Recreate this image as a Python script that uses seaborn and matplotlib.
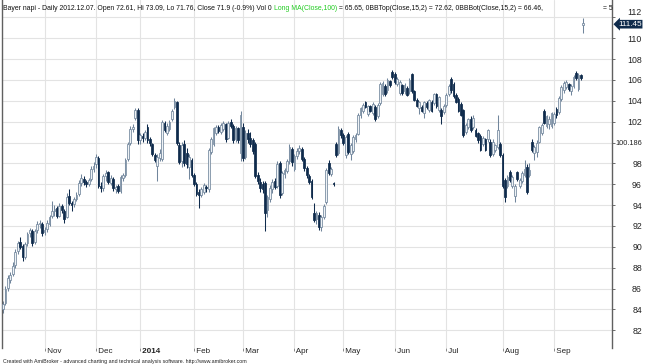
import numpy as np
import pandas as pd
import matplotlib
matplotlib.use("Agg")
import matplotlib.pyplot as plt
import matplotlib.transforms as mtransforms
import seaborn as sns

# ==========================================
# DATA (daily OHLC)
# ==========================================

opens = [
    84.0, 84.6, 86.1, 86.8, 87.4, 88.3, 89.6, 90.5, 90.1, 89.0, 90.4, 91.3, 91.5, 90.5, 91.6, 92.2, 92.2,
    91.4, 91.7, 92.2, 93.0, 93.4, 93.7, 93.0, 93.9, 93.4, 92.9, 94.9, 94.2, 94.1, 94.6, 95.1, 96.1, 96.5, 96.2, 96.0, 96.5, 97.5,
    97.9, 98.5, 95.8, 95.6, 96.8, 97.2, 96.1, 96.5, 95.5, 95.8, 95.4, 96.6, 96.9, 98.4, 100.0, 101.3, 102.4, 103.1,
    100.2, 100.6, 100.4, 101.5, 100.3, 99.9, 98.8, 97.8, 98.5, 98.4, 101.9, 100.9, 101.3, 102.3, 103.4, 103.9, 99.8, 98.2, 99.9, 99.0, 97.7, 98.3,
    96.9, 96.0, 95.3, 95.0, 95.3, 95.7, 95.5, 99.1, 99.9, 100.9, 101.5, 101.0, 101.3, 101.8, 100.4, 102.0, 101.6, 100.3, 101.4, 99.0,
    101.5, 98.6, 100.9, 100.4, 100.2, 99.9, 96.9, 96.2, 96.0, 96.1, 93.5, 94.6, 95.5, 96.3, 95.8, 98.0, 95.2, 97.0, 97.3, 98.2, 99.4,
    97.5, 98.7, 99.2, 99.4, 98.4, 97.6, 96.8, 96.3, 93.2, 92.7, 93.1, 91.9, 92.9, 94.3, 98.0, 97.0, 96.1, 99.9, 99.0, 101.2,
    100.7, 98.8, 100.8, 98.9, 99.2, 100.3, 100.8, 102.6, 103.0, 103.9, 102.7, 103.5, 102.8, 103.4, 102.5, 103.8, 104.7, 105.4, 105.0, 105.9, 106.8,
    106.6, 105.6, 104.8, 105.5, 104.9, 105.2, 104.9, 106.6, 104.9, 104.1, 103.3, 103.4, 102.8, 103.8, 103.1, 103.9, 103.8, 104.7, 103.1, 103.1, 102.9,
    103.6, 104.7, 106.1, 105.6, 104.6, 104.2, 103.7, 103.1, 101.0, 101.5, 102.3, 101.5, 101.2, 100.9, 100.6, 99.9, 100.3, 100.3, 100.1, 98.9, 99.3, 99.6, 99.9,
    98.8, 96.4, 95.8, 97.2, 95.8, 94.9, 97.2, 95.8, 96.3, 96.9, 97.7, 96.9, 100.1, 99.0, 99.1, 100.1, 100.9, 103.0, 101.6, 101.8, 101.6,
    101.9, 103.2, 102.9, 104.2, 105.0, 105.3, 105.6, 104.9, 105.4, 106.7, 105.1, 106.5, 111.3,
]
highs = [
    84.8, 86.2, 87.3, 87.6, 88.5, 89.8, 90.6, 90.9, 90.3, 90.5, 91.4, 91.8, 91.7, 91.7, 92.5, 92.6, 92.4,
    91.9, 92.6, 93.1, 94.4, 94.0, 93.9, 94.2, 94.1, 93.6, 95.2, 95.5, 94.4, 94.8, 95.3, 96.4, 97.0, 96.8, 96.4, 96.6, 97.8, 98.1,
    98.9, 98.7, 96.2, 97.0, 97.4, 97.3, 96.9, 96.7, 95.9, 96.0, 96.9, 97.1, 98.5, 100.1, 101.6, 101.8, 103.3, 103.3,
    100.9, 100.9, 101.2, 101.8, 100.5, 100.0, 99.0, 98.9, 99.4, 102.2, 102.1, 101.9, 102.2, 103.2, 104.3, 104.0, 100.1, 100.1, 100.2, 99.5, 98.9, 98.5,
    97.1, 96.2, 95.5, 95.7, 96.1, 95.9, 99.5, 100.5, 101.5, 101.7, 101.7, 101.9, 102.1, 101.9, 102.1, 102.3, 101.8, 101.6, 101.5, 103.0,
    101.9, 101.2, 101.3, 101.0, 100.4, 100.1, 97.2, 96.6, 96.3, 96.3, 95.0, 95.9, 96.5, 96.6, 98.2, 98.2, 97.3, 97.6, 98.4, 99.9, 99.6,
    98.9, 99.5, 99.8, 99.6, 98.6, 97.8, 97.0, 96.5, 94.2, 93.4, 93.3, 93.1, 94.1, 97.6, 98.3, 97.7, 96.2, 100.1, 101.6, 101.4,
    100.9, 100.7, 101.0, 100.0, 100.7, 100.9, 102.8, 103.4, 103.8, 104.0, 103.6, 103.6, 103.9, 103.6, 103.8, 105.8, 105.9, 105.6, 106.2, 106.0, 107.0,
    106.8, 106.3, 106.0, 105.6, 105.7, 105.4, 106.2, 106.7, 105.0, 104.3, 104.0, 103.6, 104.0, 104.0, 104.2, 104.1, 104.8, 104.8, 104.5, 103.3, 103.7,
    104.8, 105.6, 106.3, 105.8, 104.8, 104.4, 103.9, 103.2, 101.9, 102.4, 102.5, 102.6, 101.4, 101.0, 100.8, 100.6, 100.4, 101.3, 100.3, 100.3, 99.9, 102.6, 100.1,
    99.0, 96.6, 96.9, 97.4, 96.9, 96.0, 97.3, 96.6, 97.3, 98.3, 97.9, 98.0, 100.3, 99.8, 100.2, 101.6, 101.9, 103.2, 102.6, 102.5, 102.9,
    102.9, 103.4, 104.5, 105.5, 105.9, 106.0, 105.7, 105.6, 106.5, 106.9, 106.7, 106.6, 111.9,
]
lows = [
    83.7, 84.4, 85.8, 86.5, 87.2, 88.0, 89.3, 89.8, 88.6, 88.8, 90.1, 90.9, 90.1, 90.3, 91.3, 91.8, 91.0,
    91.1, 91.4, 92.0, 92.8, 93.0, 92.8, 92.9, 93.2, 92.3, 92.8, 94.0, 93.4, 93.8, 94.4, 94.9, 95.8, 95.9, 95.7, 95.8, 96.3, 97.2,
    97.6, 95.6, 95.3, 95.4, 96.3, 96.0, 95.9, 95.4, 95.2, 95.2, 95.2, 96.3, 96.7, 98.2, 99.8, 101.0, 102.2, 99.9,
    99.9, 100.1, 100.2, 100.0, 99.7, 98.7, 98.1, 96.3, 98.2, 98.2, 101.0, 100.7, 101.1, 102.1, 103.2, 99.8, 97.9, 97.7, 97.8, 97.6, 96.5, 96.7,
    95.8, 94.9, 93.7, 94.8, 95.1, 95.3, 95.3, 98.9, 99.7, 100.7, 100.9, 100.8, 101.1, 100.1, 100.3, 101.4, 100.0, 100.1, 100.0, 98.2,
    98.2, 98.4, 100.0, 99.6, 98.9, 96.6, 96.0, 95.3, 95.2, 91.5, 92.9, 94.3, 95.2, 95.5, 95.6, 94.7, 95.0, 96.6, 97.1, 97.9, 97.8,
    97.3, 98.4, 98.9, 98.2, 97.3, 96.6, 96.0, 94.6, 92.4, 92.2, 91.6, 91.5, 92.7, 94.1, 96.9, 96.8, 95.8, 98.6, 98.8, 100.4,
    99.8, 98.5, 98.9, 98.3, 99.0, 100.1, 100.7, 102.4, 102.8, 103.3, 102.5, 102.9, 102.6, 102.1, 102.4, 103.6, 104.5, 104.5, 104.8, 105.3, 106.1,
    105.6, 105.4, 104.6, 104.6, 104.7, 104.5, 104.7, 104.8, 104.0, 103.4, 102.7, 102.9, 102.4, 103.2, 102.9, 102.9, 103.6, 103.3, 102.9, 101.8, 102.7,
    103.4, 104.5, 104.8, 104.3, 103.8, 102.9, 102.5, 100.5, 100.8, 101.3, 101.0, 101.3, 100.5, 100.0, 99.2, 99.7, 99.2, 100.1, 98.6, 98.7, 99.1, 99.4, 98.6,
    95.6, 94.3, 95.6, 96.2, 95.6, 94.3, 96.3, 95.6, 96.1, 96.7, 95.1, 96.7, 99.1, 98.3, 98.6, 100.0, 100.7, 101.8, 101.4, 101.3, 101.4,
    101.7, 102.4, 102.7, 104.0, 104.8, 105.1, 104.9, 104.6, 105.2, 106.0, 104.9, 106.0, 110.5,
]
closes = [
    84.5, 86.0, 87.0, 87.3, 88.2, 89.5, 90.4, 90.0, 89.0, 90.3, 91.2, 91.6, 90.4, 91.5, 92.2, 92.3, 91.3,
    91.6, 92.3, 92.9, 93.4, 93.6, 93.0, 93.9, 93.5, 92.7, 94.8, 94.2, 94.0, 94.6, 95.0, 96.1, 96.6, 96.2, 96.0, 96.4, 97.5, 97.8,
    98.6, 95.8, 95.6, 96.8, 97.1, 96.2, 96.6, 95.6, 95.7, 95.4, 96.7, 96.9, 98.3, 99.9, 101.3, 101.5, 103.1, 100.2,
    100.7, 100.4, 101.0, 100.2, 100.0, 98.9, 98.3, 98.6, 99.0, 102.0, 101.2, 101.6, 102.0, 103.0, 104.0, 100.0, 98.1, 99.8, 98.0, 97.9, 98.6, 96.9,
    96.0, 95.1, 95.0, 95.5, 95.9, 95.6, 99.3, 100.3, 101.4, 101.5, 101.1, 101.7, 101.9, 100.3, 101.9, 101.6, 100.2, 101.4, 100.2, 102.6,
    98.5, 100.9, 100.3, 99.9, 99.2, 96.8, 96.3, 95.6, 95.5, 93.2, 94.8, 95.6, 96.2, 95.7, 97.9, 95.0, 97.1, 97.4, 98.2, 99.6, 98.1,
    98.7, 99.2, 99.5, 98.4, 97.6, 96.9, 96.2, 94.8, 92.6, 93.2, 91.9, 92.9, 93.9, 97.4, 97.1, 97.5, 96.0, 98.8, 101.3, 100.7,
    100.0, 100.5, 99.1, 99.8, 100.5, 100.7, 102.6, 103.3, 103.6, 103.4, 103.5, 103.0, 103.7, 102.3, 103.6, 105.6, 105.7, 104.7, 106.0, 105.5, 106.3,
    105.8, 106.1, 105.8, 104.8, 105.5, 104.6, 106.0, 104.9, 104.1, 103.5, 103.9, 103.0, 103.9, 103.4, 104.1, 103.0, 104.7, 103.5, 104.4, 102.5, 103.5,
    104.6, 105.4, 105.0, 104.5, 103.9, 103.0, 102.6, 100.7, 101.7, 102.3, 101.2, 102.4, 100.6, 100.2, 99.3, 100.4, 99.3, 101.2, 98.8, 100.1, 99.8, 101.2, 98.8,
    95.8, 94.8, 96.7, 96.4, 96.7, 95.8, 96.5, 96.4, 97.1, 97.5, 95.3, 97.4, 99.3, 99.6, 100.0, 101.5, 101.7, 101.9, 102.5, 102.3, 102.8,
    102.7, 102.6, 104.3, 105.3, 105.7, 105.8, 105.1, 105.4, 106.3, 106.2, 106.5, 106.2, 111.45,
]

# Xetra closing days in the period
holidays = ["2013-12-24", "2013-12-25", "2013-12-26", "2013-12-31",
            "2014-01-01", "2014-04-18", "2014-04-21", "2014-05-01"]

y_ticks = [82, 84, 86, 88, 90, 92, 94, 96, 98, 100, 102, 104, 106, 108, 110, 112]
y_labels = ["82", "84", "86", "88", "90", "92", "94", "96", "98", "100.186",
            "102", "104", "106", "108", "110", "112"]
last_price = 111.45

title_left = ("Bayer napi - Daily 2012.12.07. Open 72.61, Hi 73.09, Lo 71.76, "
              "Close 71.9 (-0.9%) Vol 0 ")
title_green = "Long MA(Close,100)"
title_right = (" = 65.65, 0BBTop(Close,15,2) = 72.62, "
               "0BBBot(Close,15,2) = 66.46,")
footer = ("Created with AmiBroker - advanced charting and technical analysis "
          "software. http://www.amibroker.com")

# ==========================================
# FRAME
# ==========================================

dates = pd.bdate_range("2013-10-09", "2014-09-17", freq="C", holidays=holidays)
df = pd.DataFrame({"date": dates, "open": opens, "high": highs,
                   "low": lows, "close": closes})
df["pos"] = np.arange(len(df))
df["up"] = df["close"] >= df["open"]
df["body_low"] = df[["open", "close"]].min(axis=1)
df["body_h"] = (df["close"] - df["open"]).abs().clip(lower=0.07)

UP_EDGE = "#71869c"
UP_FILL = "#eef2f6"
DOWN = "#0f2b4c"

# ==========================================
# PLOT
# ==========================================

sns.set_theme(style="white")
plt.rcParams["font.family"] = ["Liberation Sans", "DejaVu Sans"]

fig = plt.figure(figsize=(6.45, 3.64), dpi=100)
ax = fig.add_axes([2 / 645, 16 / 364, 610 / 645, 348 / 364])

edge_cols = np.where(df["up"], UP_EDGE, DOWN)
fill_cols = np.where(df["up"], UP_FILL, DOWN)

ax.vlines(df["pos"], df["low"], df["high"], colors=edge_cols, lw=0.75, zorder=2)
ax.bar(df["pos"], df["body_h"], bottom=df["body_low"], width=0.72,
       color=fill_cols, edgecolor=edge_cols, linewidth=0.55, zorder=3)

ax.set_xlim(-0.4, 248.7)
ax.set_ylim(80.3, 113.67)

# month ticks
firsts = df.groupby(df["date"].dt.to_period("M"))["pos"].first().iloc[1:]
month_names = [(" 2014" if p.month == 1 else " " + p.strftime("%b")) for p in firsts.index]
ax.set_xticks(firsts.values)
ax.set_xticklabels(month_names, ha="left")
for lbl in ax.get_xticklabels():
    if lbl.get_text().strip() == "2014":
        lbl.set_fontweight("bold")
ax.tick_params(axis="x", bottom=True, direction="out", length=2.5, width=0.6,
               color="#777777", labelsize=5.8, pad=-2.3, labelcolor="#222222")

# price axis on the right
ax.set_yticks(y_ticks)
ax.set_yticklabels(y_labels)
ax.yaxis.tick_right()
ax.tick_params(axis="y", right=True, left=False, labelright=True, labelleft=False,
               direction="out", length=2, width=0.6, color="#555555",
               labelsize=6.3, pad=19.6, labelcolor="#222222")
for t in ax.yaxis.get_major_ticks():
    t.label2.set_horizontalalignment("right")
    if t.label2.get_text() == "100.186":
        t.label2.set_fontsize(5.3)
    if t.label2.get_text() == "112":
        t.label2.set_verticalalignment("bottom")
        t.label2.set_zorder(6)

ax.grid(True, color="#e3e3e3", lw=0.8, zorder=0)
ax.set_axisbelow(True)

for side in ["top", "bottom"]:
    ax.spines[side].set_visible(False)
for side in ["left", "right"]:
    ax.spines[side].set_visible(True)
    ax.spines[side].set_color("#606060")
    ax.spines[side].set_linewidth(1.0)

# last price marker
trans = mtransforms.blended_transform_factory(ax.transAxes, ax.transData)
ax.text(1 + 6 / 610, last_price - 0.1, f"{last_price:.2f}", transform=trans,
        ha="left", va="center", fontsize=5.9, color="white", zorder=5,
        bbox=dict(boxstyle="larrow,pad=0.1", fc=DOWN, ec="none"),
        clip_on=False)

# header line (pieces laid side by side)
fig.canvas.draw()
renderer = fig.canvas.get_renderer()
x0 = 3 / 645
y_head = 1 - 8 / 364
for txt, col in [(title_left, "#111111"), (title_green, "#22cc22"), (title_right, "#111111")]:
    t = fig.text(x0, y_head, txt, fontsize=4.95, color=col, va="center", ha="left")
    bb = t.get_window_extent(renderer=renderer)
    x0 = bb.x1 / fig.bbox.width

fig.text(603 / 645, y_head, "= 5", fontsize=4.9, color="#111111", va="center")
fig.text(3 / 645, 1 - 361.5 / 364, footer, fontsize=3.8, color="#222222", va="center")

plt.savefig("out.png", dpi=100)
